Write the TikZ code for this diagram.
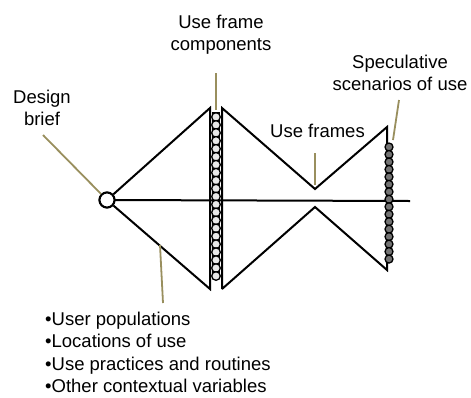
\documentclass[tikz,border=0pt]{standalone}
\usepackage{fontspec}
\setmainfont{Liberation Sans}
\usetikzlibrary{positioning, calc}

\begin{document}
\begin{tikzpicture}[x=1pt, y=-1pt,
        shape line/.style={line width=2pt, black},
        leader/.style={line width=1.8pt, draw=leadercol},
        bead/.style={line width=1.3pt, draw=black},
        label text/.style={font=\fontsize{18.5}{22.3}\selectfont, inner sep=0pt, align=center}]
        % Colours
        \definecolor{leadercol}{RGB}{153, 143, 94}
        \definecolor{beadgrey}{RGB}{115, 115, 115}
        \definecolor{beadlight}{RGB}{232, 232, 232}

        \useasboundingbox (0,0) rectangle (471,397);

        % Corner points of the two halves
        \coordinate (ltop) at (210,108);
        \coordinate (lbot) at (210,289);
        \coordinate (rtop) at (222,108);
        \coordinate (rbot) at (222,289);
        \coordinate (vup) at (315,189);
        \coordinate (vdown) at (315,207);
        \coordinate (etop) at (387,127);
        \coordinate (ebot) at (387,270);
        \coordinate (axisend) at (410,201);

        % Design brief (start point)
        \node[circle, draw, line width=2pt, fill=white, minimum size=15pt, inner sep=0pt] (brief) at (107,200) {};

        % 1. Outline
        \draw[shape line] (brief.center) -- (axisend);
        \draw[shape line, line join=miter] (brief) -- (ltop) -- (lbot) -- (brief);
        \fill[black] (212,112) rectangle (220,279);
        \draw[shape line, line join=miter] (rbot) -- (rtop) -- (vup) -- (etop) -- (ebot) -- (vdown) -- (rbot);
        \node[circle, draw, line width=2pt, fill=white, minimum size=15pt, inner sep=0pt] at (brief) {};

        % 2. Beads: use frame components and scenarios
        \foreach \i in {0,...,20} {
            \draw[bead, fill=beadlight] (216, 117 + \i*7.95) circle (4.3pt);
        }
        \foreach \i in {0,...,15} {
            \draw[bead, fill=beadgrey] (389, 147 + \i*7.47) circle (4pt);
        }

        % 3. Labels
        \node[label text, anchor=north] (lbl_brief) at (42,90) {Design\\brief};
        \node[label text, anchor=north] (lbl_comp) at (221,15) {Use frame\\components};
        \node[label text, anchor=base] (lbl_frames) at (317.5,137) {Use frames};
        \node[label text, anchor=north] (lbl_spec) at (400,55) {Speculative\\scenarios of use};
        \node[label text, anchor=north west, align=left] (lbl_ctx) at (45,312)
            {•User populations\\•Locations of use\\•Use practices and routines\\•Other contextual variables};

        % 4. Leader lines
        \coordinate (briefend) at (43,135);
        \coordinate (compend) at (216,73);
        \coordinate (comptip) at (216,110);
        \coordinate (framesend) at (315,153);
        \coordinate (framestip) at (315,185);
        \coordinate (specend) at (399,100);
        \coordinate (spectip) at (393,140);
        \coordinate (ctxend) at (163,303);
        \coordinate (ctxtip) at (160,245);
        \draw[leader] (briefend) -- (brief);
        \draw[leader] (compend) -- (comptip);
        \draw[leader] (framesend) -- (framestip);
        \draw[leader] (specend) -- (spectip);
        \draw[leader] (ctxend) -- (ctxtip);
\end{tikzpicture}
\end{document}
